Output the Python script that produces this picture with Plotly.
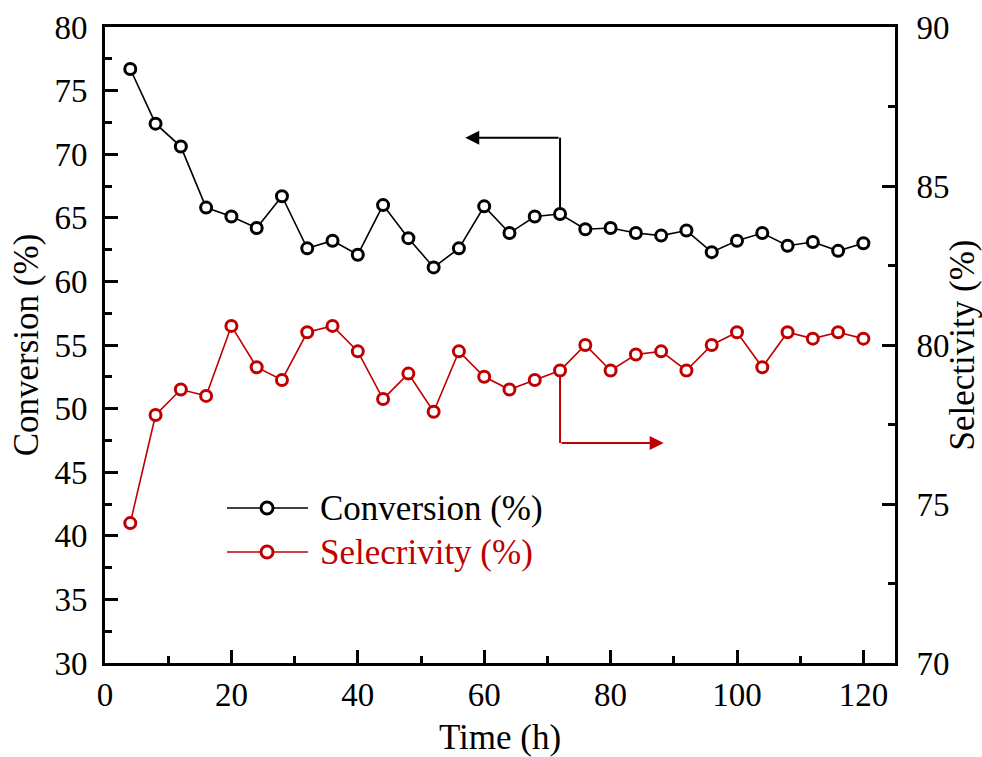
import plotly.graph_objects as go

# Time on stream (h)
time_h = [4, 8, 12, 16, 20, 24, 28, 32, 36, 40, 44, 48, 52, 56, 60,
          64, 68, 72, 76, 80, 84, 88, 92, 96, 100, 104, 108, 112, 116, 120]

# Conversion (%), left axis
conversion = [76.7, 72.4, 70.6, 65.8, 65.1, 64.2, 66.7, 62.6, 63.2, 62.1,
              66.0, 63.4, 61.1, 62.6, 65.9, 63.8, 65.1, 65.3, 64.1, 64.2,
              63.8, 63.6, 64.0, 62.3, 63.2, 63.8, 62.8, 63.1, 62.4, 63.0]

# Selectivity (%), right axis
selectivity = [74.4, 77.8, 78.6, 78.4, 80.6, 79.3, 78.9, 80.4, 80.6, 79.8,
               78.3, 79.1, 77.9, 79.8, 79.0, 78.6, 78.9, 79.2, 80.0, 79.2,
               79.7, 79.8, 79.2, 80.0, 80.4, 79.3, 80.4, 80.2, 80.4, 80.2]

BLACK = "#000000"
RED = "#C00000"
FONT = "Times New Roman, Liberation Serif, serif"

fig = go.Figure()

fig.add_trace(go.Scatter(
    x=time_h, y=conversion, name="Conversion (%)", mode="lines+markers",
    line=dict(color=BLACK, width=1.6),
    marker=dict(symbol="circle", size=11, color="white",
                line=dict(color=BLACK, width=3)),
    yaxis="y", showlegend=False))

fig.add_trace(go.Scatter(
    x=time_h, y=selectivity, name="Selecrivity (%)", mode="lines+markers",
    line=dict(color=RED, width=1.6),
    marker=dict(symbol="circle", size=11, color="white",
                line=dict(color=RED, width=3)),
    yaxis="y2", showlegend=False))

# Elbow arrows pointing each series to its axis
i72 = time_h.index(72)
fig.add_shape(type="line", xref="x", yref="y", layer="below",
              x0=72, x1=72, y0=conversion[i72], y1=71.3,
              line=dict(color=BLACK, width=2))
fig.add_annotation(xref="x", yref="y", axref="x", ayref="y",
                   x=57.0, y=71.3, ax=72, ay=71.3, text="",
                   showarrow=True, arrowhead=2, arrowsize=1.4,
                   arrowwidth=2, arrowcolor=BLACK)
fig.add_shape(type="line", xref="x", yref="y2", layer="below",
              x0=72, x1=72, y0=selectivity[i72], y1=76.92,
              line=dict(color=RED, width=2))
fig.add_annotation(xref="x", yref="y2", axref="x", ayref="y2",
                   x=88.4, y=76.92, ax=72, ay=76.92, text="",
                   showarrow=True, arrowhead=2, arrowsize=1.4,
                   arrowwidth=2, arrowcolor=RED)

# Legend drawn as line + open circle + label
legend_rows = [("Conversion (%)", BLACK, 0.2437), ("Selecrivity (%)", RED, 0.1745)]
for label, col, yy in legend_rows:
    fig.add_shape(type="line", xref="paper", yref="paper",
                  x0=0.1544, x1=0.2570, y0=yy, y1=yy,
                  line=dict(color=col, width=1.6))
    fig.add_shape(type="circle", xref="paper", yref="paper",
                  xsizemode="pixel", ysizemode="pixel",
                  xanchor=0.2051, yanchor=yy,
                  x0=-6, x1=6, y0=-6, y1=6,
                  fillcolor="white", line=dict(color=col, width=3))
    fig.add_annotation(xref="paper", yref="paper", x=0.2696, y=yy,
                       xanchor="left", yanchor="middle", showarrow=False,
                       text=label, font=dict(family=FONT, size=35, color=col))

axis_common = dict(
    showline=True, linecolor=BLACK, linewidth=3, automargin=False,
    ticks="inside", ticklen=13, tickwidth=2.5, tickcolor=BLACK,
    showgrid=False, zeroline=False,
    tickfont=dict(family=FONT, size=33, color=BLACK),
)

fig.update_layout(
    width=982, height=757,
    margin=dict(l=105, r=87, t=27, b=94),
    paper_bgcolor="white", plot_bgcolor="white",
    font=dict(family=FONT, color=BLACK),
    xaxis=dict(
        **axis_common, range=[0, 125], dtick=20, tick0=0, mirror=True,
        ticklabelstandoff=0,
        minor=dict(ticks="inside", ticklen=7, tickwidth=2.5, dtick=10,
                   tickcolor=BLACK, showgrid=False),
        title=dict(text="Time (h)", font=dict(family=FONT, size=35), standoff=18),
    ),
    yaxis=dict(
        **axis_common, range=[30, 80], dtick=5, tick0=30,
        ticklabelstandoff=8,
        minor=dict(ticks="inside", ticklen=7, tickwidth=2.5, dtick=2.5,
                   tickcolor=BLACK, showgrid=False),
        title=dict(text="Conversion (%)", font=dict(family=FONT, size=35), standoff=6),
    ),
    yaxis2=dict(
        **axis_common, range=[70, 90], dtick=5, tick0=70,
        overlaying="y", side="right", ticklabelstandoff=12,
        minor=dict(ticks="inside", ticklen=7, tickwidth=2.5, dtick=2.5,
                   tickcolor=BLACK, showgrid=False),
        title=dict(text="Selectivity (%)", font=dict(family=FONT, size=35), standoff=6),
    ),
)

fig.write_html("out.html")
